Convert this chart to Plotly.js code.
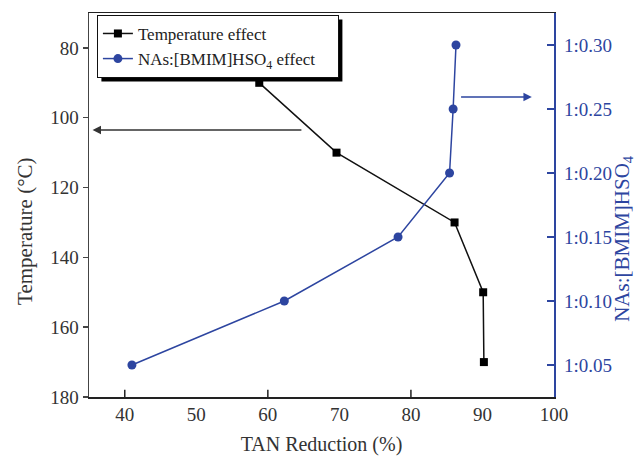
<!DOCTYPE html>
<html>
<head>
<meta charset="utf-8">
<script src="https://cdn.plot.ly/plotly-3.0.1.min.js"></script>
<style>html,body{margin:0;padding:0;background:#fff;}#chart{width:644px;height:456px;}</style>
</head>
<body>
<div id="chart"></div>
<script>
// Temperature effect series (left axis)
const tempX = [58.8, 69.6, 86.1, 90.1, 90.2];
const tempY = [90, 110, 130, 150, 170];
// NAs:[BMIM]HSO4 ratio effect series (right axis)
const ratioX = [41.0, 62.3, 78.2, 85.4, 85.9, 86.3];
const ratioY = [0.05, 0.10, 0.15, 0.20, 0.25, 0.30];
// tick labels
const xTickVals = [40, 50, 60, 70, 80, 90, 100];
const xMarkVals = [40, 60, 80];
const yTickVals = [80, 100, 120, 140, 160, 180];
const y2TickVals = [0.05, 0.10, 0.15, 0.20, 0.25, 0.30];
const y2TickText = ["1:0.05", "1:0.10", "1:0.15", "1:0.20", "1:0.25", "1:0.30"];

const BLUE = '#2d45a0';
const FONT = 'Liberation Serif';
const PAD = '\u00a0\u00a0\u00a0\u00a0';
const LPAD = '\u00a0';

const traces = [
  {x: tempX, y: tempY, name: 'Temperature effect', type: 'scatter', mode: 'lines+markers',
   xaxis: 'x', yaxis: 'y',
   line: {color: '#111', width: 1.5}, marker: {symbol: 'square', size: 8, color: '#000'}},
  {x: ratioX, y: ratioY, name: 'NAs:[BMIM]HSO<sub>4</sub> effect' + PAD, type: 'scatter', mode: 'lines+markers',
   xaxis: 'x', yaxis: 'y2',
   line: {color: BLUE, width: 1.5}, marker: {symbol: 'circle', size: 9, color: BLUE}}
];

// bottom-axis tick marks only at every second label (as in the original)
const tickShapes = xMarkVals.map(v => ({
  type: 'line', xref: 'x', yref: 'paper',
  x0: v, x1: v, y0: 0, y1: 0.019, line: {color: '#222', width: 1.5}, layer: 'above'
}));

const layout = {
  width: 644, height: 456,
  margin: {l: 89, r: 90, t: 13, b: 59},
  paper_bgcolor: '#fff', plot_bgcolor: '#fff',
  font: {family: FONT, size: 19, color: '#333'},
  showlegend: true,
  legend: {x: 0.017, y: 0.995, xanchor: 'left', yanchor: 'top',
           bgcolor: '#fff', bordercolor: '#111', borderwidth: 1,
           font: {family: FONT, size: 17, color: '#222'}, tracegroupgap: 0},
  xaxis: {range: [35, 100], tickvals: xTickVals, ticks: '', showgrid: false, zeroline: false,
          showline: true, linecolor: '#222', linewidth: 1.5, mirror: true,
          tickfont: {family: FONT, size: 19, color: '#333'},
          title: {text: 'TAN Reduction (%)', font: {family: FONT, size: 20, color: '#333'}, standoff: 18}},
  yaxis: {range: [180, 70], tickvals: yTickVals, ticks: 'outside', ticklen: 5, tickwidth: 1.5, tickcolor: '#444',
          showgrid: false, zeroline: false, showline: true, linecolor: '#444', linewidth: 1.5,
          tickfont: {family: FONT, size: 19, color: '#333'}},
  yaxis2: {range: [0.025, 0.325], overlaying: 'y', side: 'right', anchor: 'x',
           tickvals: y2TickVals, ticktext: y2TickText.map(t => LPAD + t), ticks: 'inside', ticklen: 7, tickwidth: 1.5, tickcolor: BLUE,
           showgrid: false, zeroline: false, showline: true, linecolor: BLUE, linewidth: 1.5,
           tickfont: {family: FONT, size: 19, color: BLUE}},
  shapes: [
    {type: 'rect', xref: 'paper', yref: 'paper', x0: 0.026, x1: 0.545, y0: 0.845, y1: 0.982,
     fillcolor: '#000', line: {width: 0}, layer: 'above'}
  ].concat(tickShapes),
  annotations: [
    {xref: 'paper', yref: 'paper', x: -0.1376, y: 0.43, xanchor: 'center', yanchor: 'middle',
     text: 'Temperature (°C)', textangle: -90, showarrow: false,
     font: {family: FONT, size: 21, color: '#333'}},
    {xref: 'paper', yref: 'paper', x: 1.148, y: 0.414, xanchor: 'center', yanchor: 'middle',
     text: 'NAs:[BMIM]HSO<sub>4</sub>', textangle: -90, showarrow: false,
     font: {family: FONT, size: 21, color: BLUE}},
    {xref: 'x', yref: 'y', axref: 'x', ayref: 'y', x: 35.5, y: 103.5, ax: 64.9, ay: 103.5,
     text: '', showarrow: true, arrowhead: 2, arrowsize: 1.2, arrowwidth: 1.4, arrowcolor: '#333'},
    {xref: 'x', yref: 'y2', axref: 'x', ayref: 'y2', x: 96.9, y: 0.2594, ax: 86.8, ay: 0.2594,
     text: '', showarrow: true, arrowhead: 2, arrowsize: 1.2, arrowwidth: 1.4, arrowcolor: BLUE}
  ]
};

Plotly.newPlot('chart', traces, layout, {displayModeBar: false, staticPlot: true}).then(function(gd){
  // place the legend shadow 4px right/down of the drawn legend box
  const bg = gd.querySelector('.legend .bg');
  if (!bg) return;
  const r = bg.getBoundingClientRect();
  const root = gd.getBoundingClientRect();
  const fs = gd._fullLayout._size;
  const px0 = r.left - root.left + 4, px1 = r.right - root.left + 4;
  const py0 = r.top - root.top + 4, py1 = r.bottom - root.top + 4;
  Plotly.relayout(gd, {
    'shapes[0].x0': (px0 - fs.l) / fs.w, 'shapes[0].x1': (px1 - fs.l) / fs.w,
    'shapes[0].y0': 1 - (py1 - fs.t) / fs.h, 'shapes[0].y1': 1 - (py0 - fs.t) / fs.h
  });
});
</script>
</body>
</html>
